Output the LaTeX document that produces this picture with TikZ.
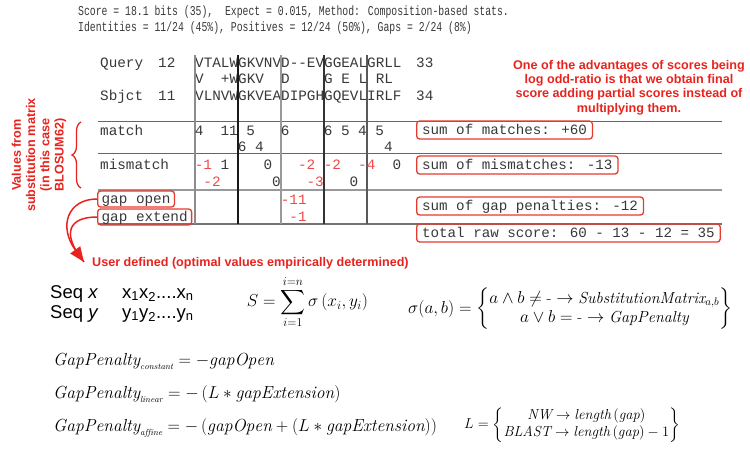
\documentclass[tikz,border=0pt]{standalone}
\usepackage{amsmath}
\usepackage{fontspec}
\usetikzlibrary{arrows.meta,decorations.pathreplacing}
\newfontfamily\monofont{Liberation Mono}
\newfontfamily\topmono[FakeStretch=0.725]{Liberation Mono}
\newfontfamily\arialfont{Liberation Sans}
\definecolor{annred}{HTML}{E8231E}
\definecolor{boxred}{HTML}{E53B2C}
\definecolor{valred}{HTML}{F04848}
\definecolor{txtgray}{HTML}{383838}
\begin{document}
\begin{tikzpicture}[x=1pt,y=-1pt,
  toptxt/.style={anchor=base west, inner sep=0pt, text=txtgray, font=\topmono\fontsize{13.5}{15}\selectfont},
  aln/.style={anchor=base west, inner sep=0pt, text=txtgray, font=\monofont\fontsize{14.33}{17}\selectfont},
  val/.style={anchor=base east, inner sep=0pt, text=txtgray, font=\monofont\fontsize{14.33}{17}\selectfont},
  nval/.style={val, text=valred},
  sumbox/.style={draw=boxred, line width=1.3pt, rounded corners=3pt, anchor=base west, inner xsep=5.5pt, inner ysep=2pt, text height=11pt, text depth=3pt, text=txtgray, font=\monofont\fontsize{14.2}{17}\selectfont},
  gapbox/.style={sumbox, inner xsep=4pt, text height=10pt, text depth=2pt, font=\monofont\fontsize{14.33}{17}\selectfont},
  anno/.style={text=annred, font=\arialfont\bfseries\fontsize{12.6}{14.2}\selectfont, align=center, inner sep=0pt},
  vline/.style={line width=1.1pt},
  hline/.style={line width=1.1pt},
  redcurve/.style={draw=annred, line width=1.5pt},
  eq/.style={inner sep=0pt}
]
\useasboundingbox (0,0) rectangle (750,448);

% header
\node[toptxt] (score) at (78,15.5) {Score = 18.1 bits (35),\ \ Expect = 0.015, Method: Composition-based stats.};
\node[toptxt] (ident) at (78,31) {Identities = 11/24 (45\%), Positives = 12/24 (50\%), Gaps = 2/24 (8\%)};

% alignment
\node[aln] (qlab) at (100,67) {Query};
\node[aln] (qnum) at (158,67) {12};
\node[aln] (qseq) at (195,67) {VTALWGKVNVD-{}-EVGGEALGRLL};
\node[aln] (qend) at (416,67) {33};
\node[aln] (mseq) at (195,83.5) {V~~+WGKV~~D~~~~G~E~L~RL};
\node[aln] (slab) at (100,100) {Sbjct};
\node[aln] (snum) at (158,100) {11};
\node[aln] (sseq) at (195,100) {VLNVWGKVEADIPGHGQEVLIRLF};
\node[aln] (send) at (416,100) {34};

% table grid
\draw[hline, draw=black!60] (98,121.7) -- (722,121.7);
\draw[hline, draw=black!60] (98,153.7) -- (722,153.7);
\draw[hline, draw=black!40] (98,190) -- (722,190);
\draw[hline, draw=black!55] (98,224) -- (722,224);
\draw[vline, draw=black!45] (195,55) -- (195,224);
\draw[vline, draw=black!90] (238,55) -- (238,224);
\draw[vline, draw=black!40] (281,55) -- (281,224);
\draw[vline, draw=black!80] (324,55) -- (324,224);
\draw[vline, draw=black!65] (367,55) -- (367,224);

% row labels
\node[aln] (lmatch) at (100,135) {match};
\node[aln] (lmis) at (100,169) {mismatch};
\node[gapbox] (gapopen) at (97,203) {gap open};
\node[gapbox] (gapext) at (97,221) {gap extend};

% match values
\node[val] (a1) at (203.6,135) {4};
\node[val] (a2) at (238,135) {11};
\node[val] (a3) at (255.2,135) {5};
\node[val] (a4) at (289.6,135) {6};
\node[val] (a5) at (332.6,135) {6};
\node[val] (a6) at (349.8,135) {5};
\node[val] (a7) at (367,135) {4};
\node[val] (a8) at (384.2,135) {5};
\node[val] (b1) at (246.6,151.5) {6};
\node[val] (b2) at (263.8,151.5) {4};
\node[val] (b3) at (392.8,151.5) {4};
% mismatch values
\node[nval] (c1) at (212.2,169) {-1};
\node[val] (c2) at (229.4,169) {1};
\node[val] (c3) at (272.4,169) {0};
\node[nval] (c4) at (315.4,169) {-2};
\node[nval] (c5) at (341.2,169) {-2};
\node[nval] (c6) at (375.6,169) {-4};
\node[val] (c7) at (401.4,169) {0};
\node[nval] (d1) at (220.8,186.5) {-2};
\node[val] (d2) at (281,186.5) {0};
\node[nval] (d3) at (324,186.5) {-3};
\node[val] (d4) at (358.4,186.5) {0};
% gap values
\node[nval] (e1) at (306.8,204) {-11};
\node[nval] (e2) at (306.8,221.5) {-1};

% sum boxes
\node[sumbox] (smatch) at (416,134) {sum of matches: +60};
\node[sumbox] (smis) at (416,169) {sum of mismatches: -13};
\node[sumbox] (sgap) at (416,210) {sum of gap penalties: -12};
\node[sumbox] (stotal) at (416,237) {total raw score: 60 - 13 - 12 = 35};

% annotations
\node[anno] (adv) at (629,87.5) {One of the advantages of scores being\\log odd-ratio is that we obtain final\\score adding partial scores instead of\\multiplying them.};
\node[anno, rotate=90] (vals) at (39,155) {Values from\\substitution matrix\\(in this case\\BLOSUM62)};
\coordinate (bbot) at (81,188);
\coordinate (btop) at (81,122);
\draw[annred, line width=1.3pt, decorate, decoration={brace, amplitude=9pt}] (bbot) -- (btop);

\node[anno, anchor=base west] (user) at (92,266) {User defined (optimal values empirically determined)};
\coordinate (tip) at (84,262);
\draw[redcurve] (gapext.west) .. controls (70,217) and (60,232) .. (tip);
\draw[redcurve, -{Triangle[length=15pt,width=12pt]}] (gapopen.west) .. controls (68,199) and (58,226) .. (tip);

% equations
\node[anchor=base west, inner sep=0pt, font=\arialfont\fontsize{18.5}{21}\selectfont] (seqx) at (50,298) {Seq \textit{x}};
\node[anchor=base west, inner sep=0pt, font=\arialfont\fontsize{18.5}{21}\selectfont] (seqy) at (50,318) {Seq \textit{y}};
\node[anchor=base west, inner sep=0pt, font=\arialfont\fontsize{18.5}{21}\selectfont] (xs) at (122,298) {x\textsubscript{1}x\textsubscript{2}....x\textsubscript{n}};
\node[anchor=base west, inner sep=0pt, font=\arialfont\fontsize{18.5}{21}\selectfont] (ys) at (122,318) {y\textsubscript{1}y\textsubscript{2}....y\textsubscript{n}};

\node[eq, font=\fontsize{18}{21}\selectfont] (sumeq) at (307.5,302) {$\displaystyle S=\sum_{i=1}^{i=n}\sigma\left(x_i,y_i\right)$};

\node[eq, anchor=west, font=\fontsize{16}{19}\selectfont] (sigeq) at (408,309) {$\sigma(a,b)=\left\{\begin{matrix}a\wedge b\neq\mbox{-}\rightarrow \mathit{SubstitutionMatrix}_{a,b}\\ a\vee b=\mbox{-}\rightarrow \mathit{GapPenalty}\end{matrix}\right\}$};

\node[eq, anchor=base west, font=\fontsize{17.5}{21}\selectfont] (gp1) at (53,365) {$\mathit{GapPenalty}_{\scriptscriptstyle\mathit{constant}}=-\mathit{gapOpen}$};
\node[eq, anchor=base west, font=\fontsize{17.5}{21}\selectfont] (gp2) at (53,398) {$\mathit{GapPenalty}_{\scriptscriptstyle\mathit{linear}}=-\left(L*\mathit{gapExtension}\right)$};
\node[eq, anchor=base west, font=\fontsize{17.5}{21}\selectfont] (gp3) at (53,431) {$\mathit{GapPenalty}_{\scriptscriptstyle\mathit{affine}}=-\left(\mathit{gapOpen}+\left(L*\mathit{gapExtension}\right)\right)$};

\node[eq, anchor=west, font=\fontsize{14.5}{17}\selectfont] (leq) at (464,425) {$L=\left\{\begin{matrix}\mathit{NW}\rightarrow\mathit{length}\left(\mathit{gap}\right)\\ \mathit{BLAST}\rightarrow\mathit{length}\left(\mathit{gap}\right)-1\end{matrix}\right\}$};
\end{tikzpicture}
\end{document}
